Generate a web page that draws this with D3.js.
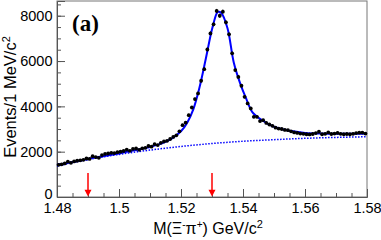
<!DOCTYPE html>
<html><head><meta charset="utf-8">
<script src="https://cdn.jsdelivr.net/npm/d3@7"></script>
<style>html,body{margin:0;padding:0;background:#fff;}svg{display:block;}</style>
</head><body>
<script>
// ---- data ----
const binCenters = d3.range(100).map(i => +(1.4805 + 0.001 * i).toFixed(4));
const counts = [
 1420,1440,1480,1560,1510,1570,1600,1620,1640,1700,
 1680,1800,1760,1730,1850,1900,1920,1950,1940,1980,
 2000,2030,2090,2040,2120,2140,2080,2150,2170,2250,
 2220,2330,2290,2390,2450,2480,2560,2650,2720,2900,
 3170,3280,3610,3950,4320,4570,5130,5640,6510,7220,
 7620,8210,8000,8180,7710,7180,6340,5600,5300,4910,
 4420,4130,3910,3540,3540,3350,3390,3270,3200,3140,
 3060,3020,3000,2960,2950,2900,2850,2830,2800,2790,
 2770,2760,2780,2820,2880,2770,2790,2850,2780,2800,
 2830,2790,2770,2780,2770,2790,2820,2840,2845,2800];
const fitX = [1.480,1.485,1.490,1.495,1.500,1.505,1.510,1.514,1.517,1.520,1.522,1.524,1.526,1.528,1.530,1.5315,1.532,1.533,1.535,1.537,1.539,1.541,1.543,1.546,1.550,1.555,1.560,1.565,1.570,1.575,1.580];
const fitY = [1420,1540,1680,1800,1920,2060,2210,2380,2580,2900,3280,3880,4850,6100,7400,8100,8170,8120,7450,5950,5050,4350,3750,3400,3100,2920,2830,2800,2790,2790,2790];
const bkgX = [1.480,1.485,1.490,1.495,1.500,1.510,1.520,1.530,1.540,1.550,1.560,1.570,1.580];
const bkgY = [1360,1520,1650,1770,1880,2070,2230,2360,2460,2530,2590,2630,2660];
const arrowX = [1.49, 1.53];
const xTicks = [1.48,1.50,1.52,1.54,1.56,1.58];
const xTickLabels = ["1.48","1.5","1.52","1.54","1.56","1.58"];
const yTicks = [0,2000,4000,6000,8000];
const yTickLabels = ["0","2000","4000","6000","8000"];

// ---- layout ----
const W = 381, H = 240;
const L = 57, R = 367, T = 1, B = 197;
const svg = d3.select("body").append("svg").attr("width", W).attr("height", H);
const x = d3.scaleLinear().domain([1.48, 1.58]).range([L, R]);
const y = d3.scaleLinear().domain([0, 8650]).range([B, T]);
const axisCol = "#555";
const font = "Liberation Sans, Arial, Helvetica, sans-serif";

// frame
svg.append("rect").attr("x", L).attr("y", T).attr("width", R - L).attr("height", B - T)
  .attr("fill", "none").attr("stroke", "#777").attr("stroke-width", 1);

// x axis
const gx = svg.append("g").attr("transform", `translate(0,${B})`);
gx.call(d3.axisBottom(x).tickValues(d3.range(1.48, 1.5801, 0.005)).tickSize(-4).tickFormat(""));
gx.call(g => g.select(".domain").remove());
const gx2 = svg.append("g").attr("transform", `translate(0,${B})`);
gx2.call(d3.axisBottom(x).tickValues(xTicks).tickSize(-8).tickPadding(6)
  .tickFormat((d, i) => xTickLabels[i]));
[gx, gx2].forEach(g => {
  g.selectAll("line").attr("stroke", axisCol);
  g.select(".domain").attr("stroke", axisCol);
  g.selectAll("text").attr("font-family", font).attr("font-size", 14.5).attr("fill", "#000");
});

// y axis
const gy = svg.append("g").attr("transform", `translate(${L},0)`);
gy.call(d3.axisLeft(y).tickValues(d3.range(0, 8501, 500)).tickSize(-4).tickFormat(""));
gy.call(g => g.select(".domain").remove());
const gy2 = svg.append("g").attr("transform", `translate(${L},0)`);
gy2.call(d3.axisLeft(y).tickValues(yTicks).tickSize(-8).tickPadding(4.5)
  .tickFormat((d, i) => yTickLabels[i]));
[gy, gy2].forEach(g => {
  g.selectAll("line").attr("stroke", axisCol);
  g.select(".domain").attr("stroke", axisCol);
  g.selectAll("text").attr("font-family", font).attr("font-size", 14.5).attr("fill", "#000");
});
gy2.selectAll(".tick text").filter((d) => d === 0).attr("dy", "0.1em");

// titles
svg.append("text").attr("transform", `translate(16,97) rotate(-90)`)
  .attr("text-anchor", "middle").attr("font-family", font).attr("font-size", 16.5)
  .html('Events/1 MeV/c<tspan dy="-6" font-size="11">2</tspan>');
svg.append("text").attr("x", 208).attr("y", 234).attr("text-anchor", "middle")
  .attr("font-family", font).attr("font-size", 16)
  .html('M(Ξ<tspan dy="-6" font-size="10">-</tspan><tspan dy="6">π</tspan><tspan dy="-6" font-size="10">+</tspan><tspan dy="6">) GeV/c</tspan><tspan dy="-6" font-size="11">2</tspan>');

svg.append("text").attr("x", 72).attr("y", 31)
  .attr("font-family", "Liberation Serif, Times New Roman, serif").attr("font-weight", "bold")
  .attr("font-size", 23).text("(a)");

// background (dotted)
svg.append("path").datum(bkgX.map((d, i) => [d, bkgY[i]]))
  .attr("fill", "none").attr("stroke", "#0000ff").attr("stroke-width", 1.5)
  .attr("stroke-dasharray", "1.5,1.5")
  .attr("d", d3.line().x(d => x(d[0])).y(d => y(d[1])).curve(d3.curveMonotoneX));

// fit (solid)
svg.append("path").datum(fitX.map((d, i) => [d, fitY[i]]))
  .attr("fill", "none").attr("stroke", "#0000ff").attr("stroke-width", 2)
  .attr("d", d3.line().x(d => x(d[0])).y(d => y(d[1])).curve(d3.curveCatmullRom.alpha(0.5)));

// data points with error bars
const pts = binCenters.map((m, i) => ({m, n: counts[i]}));
svg.append("g").selectAll("line").data(pts).join("line")
  .attr("x1", d => x(d.m)).attr("x2", d => x(d.m))
  .attr("y1", d => y(d.n + Math.sqrt(d.n))).attr("y2", d => y(d.n - Math.sqrt(d.n)))
  .attr("stroke", "#000").attr("stroke-width", 1);
svg.append("g").selectAll("circle").data(pts).join("circle")
  .attr("cx", d => x(d.m)).attr("cy", d => y(d.n)).attr("r", 1.9).attr("fill", "#000");

// red arrows
const ag = svg.append("g");
arrowX.forEach(a => {
  ag.append("line").attr("x1", x(a)).attr("x2", x(a)).attr("y1", y(1060)).attr("y2", y(250))
    .attr("stroke", "#ff0000").attr("stroke-width", 1.5);
  ag.append("path").attr("fill", "#ff0000")
    .attr("d", `M${x(a) - 3.5},${y(320)} L${x(a) + 3.5},${y(320)} L${x(a)},${y(20)} Z`);
});
</script>
</body></html>
